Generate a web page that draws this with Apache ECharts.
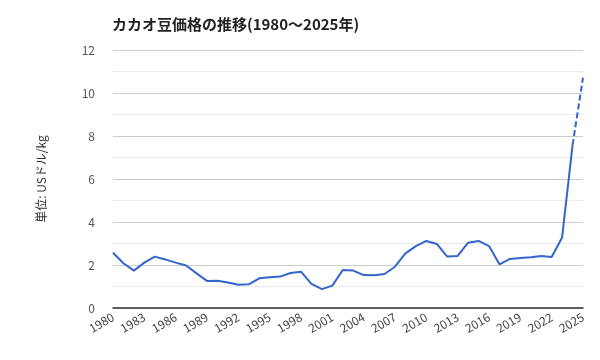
<!DOCTYPE html>
<html><head><meta charset="utf-8">
<script src="https://cdn.jsdelivr.net/npm/echarts@6/dist/echarts.min.js"></script>
<style>html,body{margin:0;padding:0;background:#fff}#c{width:600px;height:360px}</style>
</head><body><div id="c"></div>
<script>
const years = [];
for (let y = 1980; y <= 2025; y++) years.push(String(y));
const prices = [2.57,2.08,1.74,2.11,2.39,2.26,2.11,1.98,1.61,1.26,1.27,1.19,1.08,1.10,1.38,1.43,1.46,1.63,1.69,1.12,0.88,1.04,1.77,1.74,1.53,1.52,1.58,1.92,2.54,2.88,3.12,2.98,2.39,2.42,3.04,3.12,2.88,2.03,2.28,2.33,2.36,2.42,2.37,3.28,7.58,10.71];
const yTicks = [0,2,4,6,8,10,12];
const solid = prices.map((v,i)=> i <= 44 ? v : null);
const dashed = prices.map((v,i)=> i >= 44 ? v : null);
const font = '"Noto Sans CJK JP", "Noto Sans", sans-serif';
const chart = echarts.init(document.getElementById('c'));
chart.setOption({
  animation:false,
  textStyle:{fontFamily:font},
  title:{text:'カカオ豆価格の推移(1980〜2025年)', left:107, top:12,
    textStyle:{fontSize:15, fontWeight:'bold', color:'#222', fontFamily:font}},
  grid:{left:113, right:17, top:50, bottom:52},
  xAxis:{type:'category', data:years, boundaryGap:false,
    axisLine:{show:true, lineStyle:{color:'#333', width:1.5}},
    axisTick:{show:false},
    axisLabel:{interval:2, rotate:30, fontSize:12, color:'#444', margin:8, fontFamily:font}},
  yAxis:{type:'value', min:yTicks[0], max:yTicks[yTicks.length-1], interval:2,
    name:'単位: USドル/kg', nameLocation:'middle', nameGap:66,
    nameTextStyle:{fontSize:12, color:'#333', fontFamily:font},
    axisLine:{show:false}, axisTick:{show:false},
    axisLabel:{fontSize:12, color:'#555', margin:18, fontFamily:font},
    splitLine:{lineStyle:{color:'#ccc'}},
    minorTick:{show:false, splitNumber:2},
    minorSplitLine:{show:true, lineStyle:{color:'#ebebeb'}}},
  series:[
    {type:'line', data:solid, showSymbol:false, symbol:'none', lineStyle:{color:'#3366cc', width:2}, connectNulls:false},
    {type:'line', data:dashed, showSymbol:false, symbol:'none', lineStyle:{color:'#3366cc', width:2, type:[6,3]}}
  ]
});
</script></body></html>
